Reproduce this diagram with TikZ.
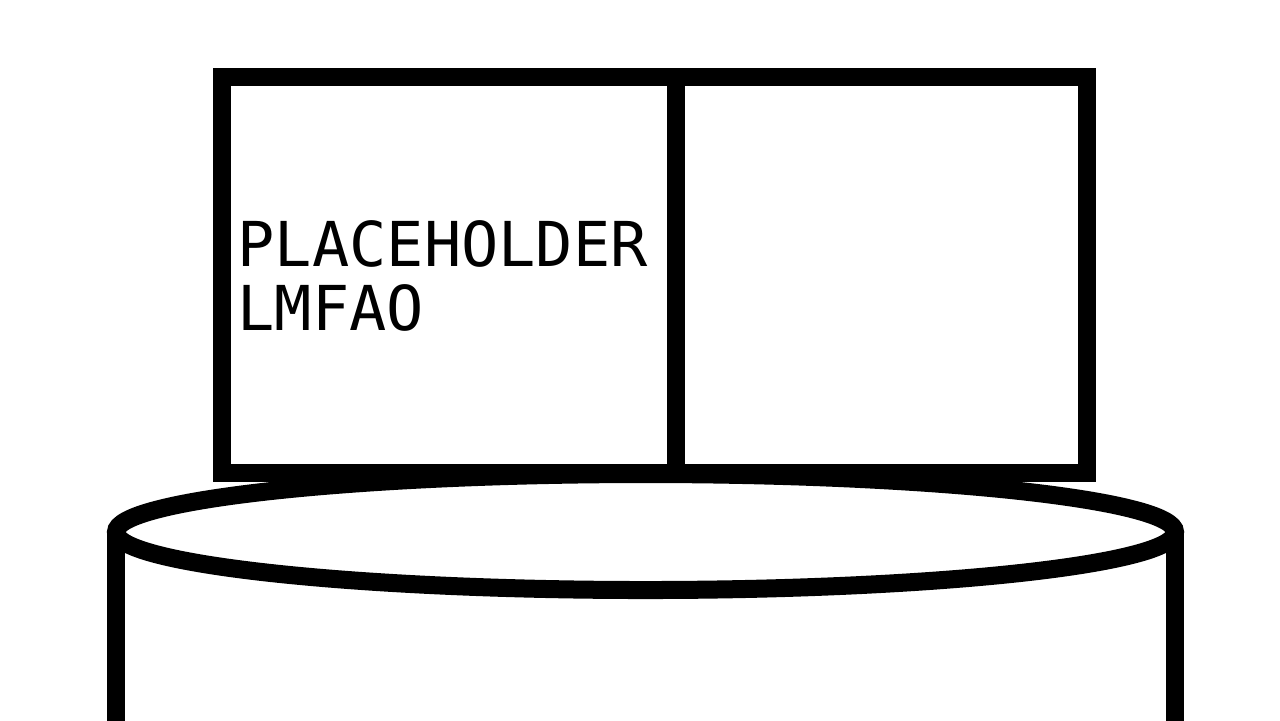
\documentclass[tikz,border=0pt]{standalone}
\usepackage{fontspec}
\newfontfamily\pixfont{DejaVu Sans Mono}
\tikzset{
  heavy/.style={line width=5.12pt, draw=black, line join=miter},
  label/.style={font=\pixfont\fontsize{17.6pt}{18.2pt}\selectfont, align=left, inner sep=0pt, anchor=base west}
}
\begin{document}
\begin{tikzpicture}[x=0.01cm,y=-0.01cm]
\useasboundingbox (0,0) rectangle (1280,720);
\clip (0,0) rectangle (1280,720);
\fill[white] (0,0) rectangle (1280,720);
% cylinder
\draw[heavy] (116,780) -- (116,532);
\draw[heavy] (1175,780) -- (1175,532);
\draw[heavy] (645.5,532) ellipse [x radius=529.5, y radius=58];
% box
\draw[heavy, fill=white] (222,77) rectangle (1087,473);
\draw[heavy] (675.5,77) -- (675.5,473);
\node[label] (txt) at (237,330) {PLACEHOLDER\\LMFAO};
\end{tikzpicture}
\end{document}
